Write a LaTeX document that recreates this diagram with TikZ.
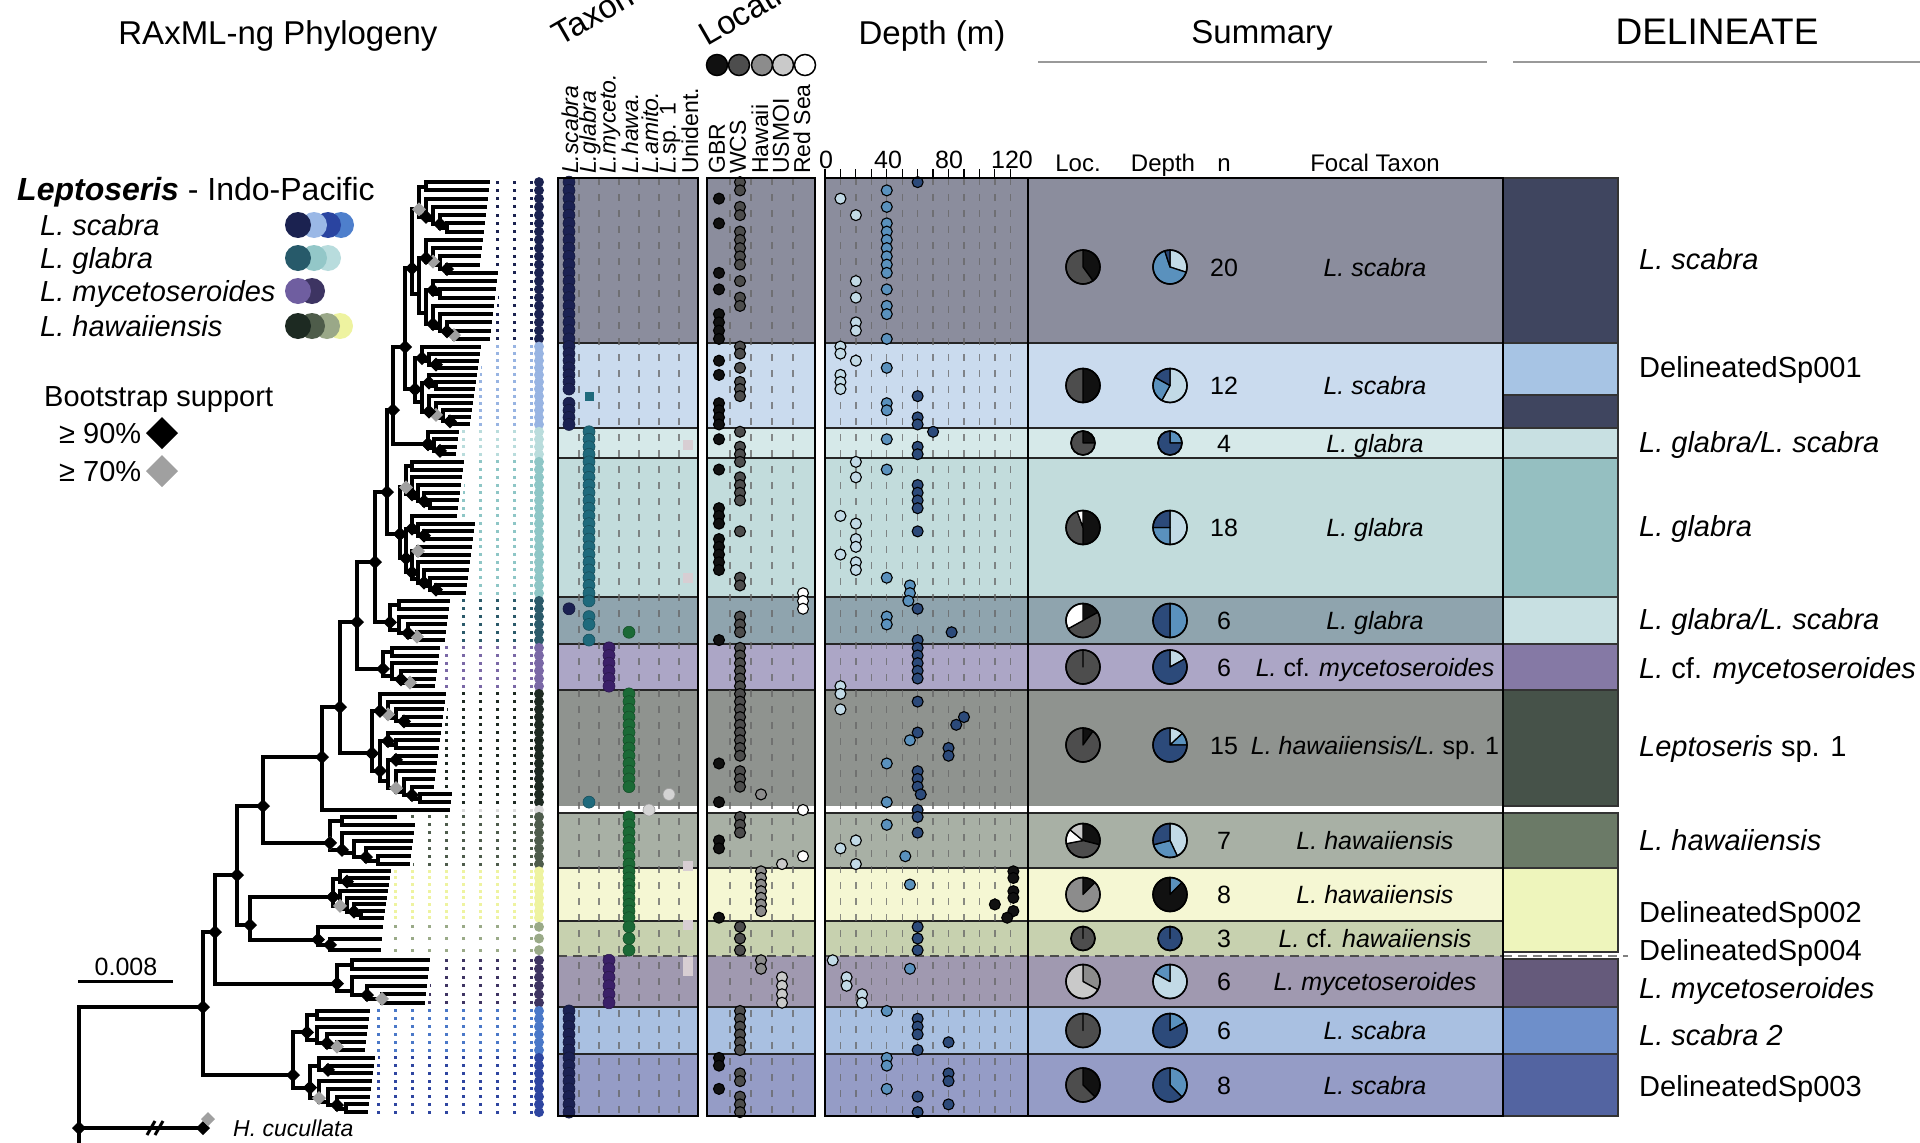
\documentclass[tikz,border=0pt]{standalone}
\usepackage{fontspec}
\setmainfont{Liberation Sans}
\usetikzlibrary{positioning}

\newcommand\fs[1]{\fontsize{#1}{#1}\selectfont}

% row backgrounds
\definecolor{rowA}{HTML}{8B8D9D}
\definecolor{rowB}{HTML}{CADBEE}
\definecolor{rowC}{HTML}{D6E9E9}
\definecolor{rowD}{HTML}{C2DCDC}
\definecolor{rowE}{HTML}{8FA4AE}
\definecolor{rowF}{HTML}{ACA6C6}
\definecolor{rowG}{HTML}{8F938F}
\definecolor{rowH}{HTML}{A8B0A5}
\definecolor{rowI}{HTML}{F5F7D3}
\definecolor{rowJ}{HTML}{C7D1AF}
\definecolor{rowK}{HTML}{A099B0}
\definecolor{rowL}{HTML}{A9C0E1}
\definecolor{rowM}{HTML}{959CC6}
% tip strip
\definecolor{spA}{HTML}{1B2250}
\definecolor{spB}{HTML}{98B4E2}
\definecolor{spC}{HTML}{B9DCDC}
\definecolor{spD}{HTML}{8EC6C6}
\definecolor{spE}{HTML}{2B5A6A}
\definecolor{spF}{HTML}{7A68A6}
\definecolor{spG}{HTML}{1E2A22}
\definecolor{spX}{HTML}{D9D9D9}
\definecolor{spH}{HTML}{4E5C4C}
\definecolor{spI}{HTML}{EEF3A0}
\definecolor{spJ}{HTML}{9AAA88}
\definecolor{spK}{HTML}{3E3462}
\definecolor{spL}{HTML}{4A78C8}
\definecolor{spM}{HTML}{2E45A0}
% delineate
\definecolor{dlA}{HTML}{3F455F}
\definecolor{dlB}{HTML}{A7C4E4}
\definecolor{dlC}{HTML}{C8E0E2}
\definecolor{dlD}{HTML}{95BFC1}
\definecolor{dlF}{HTML}{8579A5}
\definecolor{dlG}{HTML}{465249}
\definecolor{dlH}{HTML}{6B7A67}
\definecolor{dlI}{HTML}{EEF5BC}
\definecolor{dlK}{HTML}{655A7B}
\definecolor{dlL}{HTML}{6E8FCA}
\definecolor{dlM}{HTML}{5364A1}
% taxonomy, location, depth
\definecolor{tax1}{HTML}{1B2152}
\definecolor{tax2}{HTML}{1F6A7C}
\definecolor{tax3}{HTML}{3B2068}
\definecolor{tax4}{HTML}{1B6A36}
\definecolor{tax5}{HTML}{D4D4D4}
\definecolor{tax6}{HTML}{D4D4D4}
\definecolor{tax7}{HTML}{E0D6DA}
\definecolor{unid}{HTML}{D8CED3}
\definecolor{loc1}{HTML}{111111}
\definecolor{loc2}{HTML}{4D4D4D}
\definecolor{loc3}{HTML}{8C8C8C}
\definecolor{loc4}{HTML}{C9C9C9}
\definecolor{loc5}{HTML}{FFFFFF}
\definecolor{dep0}{HTML}{C2DAE6}
\definecolor{dep1}{HTML}{5A91BD}
\definecolor{dep2}{HTML}{2C4A7A}
\definecolor{dep3}{HTML}{111111}
\definecolor{bsgray}{HTML}{A0A0A0}
% legend
\definecolor{lgA1}{HTML}{1B2250}
\definecolor{lgA2}{HTML}{9AB8E6}
\definecolor{lgA3}{HTML}{2A44A0}
\definecolor{lgA4}{HTML}{4E7FCC}
\definecolor{lgB1}{HTML}{275A6A}
\definecolor{lgB2}{HTML}{93C7C8}
\definecolor{lgB3}{HTML}{B8DCDD}
\definecolor{lgC1}{HTML}{6F5EA0}
\definecolor{lgC2}{HTML}{3D3462}
\definecolor{lgD1}{HTML}{1D2A22}
\definecolor{lgD2}{HTML}{4E5C4A}
\definecolor{lgD3}{HTML}{9AA888}
\definecolor{lgD4}{HTML}{EEF3A0}

\tikzset{
  branch/.style={line width=4pt, line cap=rect, line join=miter},
  leader/.style={line width=3pt, dash pattern=on 3pt off 14pt},
  gridline/.style={black!60, line width=1.3pt, dash pattern=on 7pt off 9pt, opacity=0.75},
  rowline/.style={black!85, line width=1.5pt},
  frame/.style={draw=black, line width=2pt},
  dot/.style={draw=black, line width=1.1pt},
  txt/.style={inner sep=0pt, text=black},
  head/.style={txt, font=\fs{33}, anchor=base},
  leg/.style={txt, font=\fs{29}, anchor=base west},
  collab/.style={txt, font=\fs{23}},
  axlab/.style={txt, font=\fs{25}, anchor=base},
  colhead/.style={txt, font=\fs{24}, anchor=base},
  sumtxt/.style={txt, font=\fs{25}, anchor=base},
  dltxt/.style={txt, font=\fs{29}, anchor=base west},
}

% current tip group for the tree
\newcommand\gtop{0}
\newcommand\gh{1}
\newcommand\gn{1}
\newcommand\gtip{0}
\newcommand\gdx{5}
\newcommand\setgroup[5]{\def\gtop{#1}\def\gh{#2}\def\gn{#3}\def\gtip{#4}\def\gdx{#5}}
\newcommand\cladey[2]{\pgfmathsetmacro\cy{\gtop+((0.45*(#1)+0.55*(#2))-0.5)*\gh/\gn}}

% bootstrap diamond
\newcommand\bsmark[2]{\fill[#2] (#1) ++(-7pt,0pt) -- ++(7pt,7pt) -- ++(7pt,-7pt) -- ++(-7pt,-7pt) -- cycle;}
\newcommand\cladediam[2]{\ifnum#2<3 \bsmark{#1}{black}\else\ifnum#2=3 \bsmark{#1}{bsgray}\fi\fi}

% clade of tips #1..#2, parent x #3, own x #4
\newcommand\clade[4]{%
  \cladey{#1}{#2}\let\cyown\cy
  \ifnum#1=#2\relax
    \pgfmathsetmacro\ctx{\gtip+mod(#1*37+\gn*11,19)}%
    \draw[branch] (#3,\cyown) -- (\ctx,\cyown);%
  \else
    \draw[branch] (#3,\cyown) -- (#4,\cyown);%
    \pgfmathtruncatemacro\csp{#1+max(1,int((#2-#1+1)*0.4))-1}%
    \pgfmathtruncatemacro\cnx{\csp+1}%
    \cladey{#1}{\csp}\let\cya\cy
    \cladey{\cnx}{#2}\let\cyb\cy
    \draw[branch] (#4,\cya) -- (#4,\cyb);%
    \pgfmathsetmacro\cxa{#4+\gdx}%
    \pgfmathtruncatemacro\cmk{mod(#1*3+#2*5,7)}%
    \edef\cdo{\noexpand\clade{#1}{\csp}{#4}{\cxa}\noexpand\clade{\cnx}{#2}{#4}{\cxa}\noexpand\cladediam{#4,\cyown}{\cmk}}%
    \cdo
  \fi}

% one row group: top, height, n, root x, tip base, step, strip colour, tax/loc/depth list, root name
\newcommand\drawgroup[9]{%
  \setgroup{#1}{#2}{#3}{#5}{#6}%
  \foreach \tcol/\lcol/\dval [count=\k] in {#8}{%
    \pgfmathsetmacro\ty{#1+(\k-0.5)*#2/#3}%
    \pgfmathsetmacro\tipx{#5+mod(\k*37+#3*11,19)}%
    \pgfmathtruncatemacro\dcl{(\dval>=30)+(\dval>=56)+(\dval>=100)}%
    \draw[leader, #7] (533,\ty) -- (\tipx+5,\ty);
    \fill[#7] (539,\ty) circle[radius=5pt];
    \ifnum\tcol=8
      \fill[tax2] (584.5,\ty-4.5) rectangle (593.5,\ty+4.5);
    \else
      \filldraw[fill=tax\tcol, draw=tax\tcol!75!black, line width=0.6pt] (549+20*\tcol,\ty) circle[radius=6pt];
    \fi
    \filldraw[dot, fill=loc\lcol] (698+21*\lcol,\ty) circle[radius=5.5pt];
    \filldraw[dot, fill=dep\dcl] (825+1.544*\dval,\ty) circle[radius=5.5pt];
  }%
  \clade{1}{#3}{#4}{#4}%
  \pgfmathsetmacro\gry{#1+(0.55*#3-0.05)*#2/#3}%
  \coordinate (#9) at (#4,\gry);
}

% pie from 12 o'clock, clockwise
\newcommand\piechart[4]{%
  \gdef\pcur{90}%
  \foreach \pf/\pc in {#4}{%
    \pgfmathsetmacro\pnext{\pcur-360*\pf}%
    \filldraw[fill=\pc, draw=black, line width=1.3pt, line join=round] (#1,#2) -- ++(\pcur:#3pt) arc[start angle=\pcur, end angle=\pnext, radius=#3pt] -- cycle;
    \xdef\pcur{\pnext}}%
  \draw[black, line width=1.6pt] (#1,#2) circle[radius=#3pt];}

\newcommand\sumrow[7]{%
  \piechart{1083}{#1}{#2}{#3}%
  \piechart{1170}{#1}{#2}{#4}%
  \node[sumtxt] (#7n) at (1224,#1+9) {#5};%
  \node[sumtxt] (#7t) at (1375,#1+9) {#6};}

\def\rowlist{178/343/rowA,343/428/rowB,428/458/rowC,458/597/rowD,597/644/rowE,644/690/rowF,690/806/rowG,806/813/white,813/868/rowH,868/921/rowI,921/956/rowJ,956/1007/rowK,1007/1054/rowL,1054/1116/rowM}
\newcommand\panel[2]{%
  \foreach \rt/\rb/\rc in \rowlist {\fill[\rc] (#1,\rt) rectangle (#2,\rb);}%
  \foreach \yy in {343,428,458,597,644,690,813,868,921,1007,1054} {\draw[rowline] (#1,\yy) -- (#2,\yy);}%
  \draw[rowline, black!70, dash pattern=on 9pt off 6pt] (#1,956) -- (#2,956);}

\begin{document}
\begin{tikzpicture}[x=1pt, y=-1pt]
\useasboundingbox (0,0) rectangle (1920,1143);

% panels
\panel{558}{698}
\panel{707}{815}
\panel{825}{1503}
\foreach \gx in {579,599,619,639,659,679,730,751,772,793}
  \draw[gridline] (\gx,178) -- (\gx,1116);
\foreach \i in {1,...,12}
  \draw[gridline] (825+15.44*\i,178) -- (825+15.44*\i,1116);
\foreach \uy in {445,578,866,925,962,971}
  \fill[unid] (683,\uy-5) rectangle (693,\uy+5);

% DELINEATE column
\foreach \rt/\rb/\rc in {178/343/dlA,343/395/dlB,395/428/dlA,428/458/dlC,458/597/dlD,597/644/dlC,644/690/dlF,690/806/dlG,813/868/dlH,868/952/dlI,959/1007/dlK,1007/1054/dlL,1054/1116/dlM}
  \filldraw[fill=\rc, draw=black!80, line width=1.2pt] (1503,\rt) rectangle (1618,\rb);
\draw[gray, line width=1.5pt, dash pattern=on 9pt off 6pt] (1503,956) -- (1628,956);

% tips, panel dots and tree per row group
\drawgroup{178}{165}{20}{412}{478}{7}{spA}{1/2/60,1/2/40,1/1/10,1/2/40,1/2/20,1/1/40,1/2/40,1/2/40,1/2/40,1/2/40,1/2/40,1/1/40,1/2/20,1/1/40,1/2/20,1/2/40,1/1/40,1/1/20,1/1/20,1/1/40}{rA}
\drawgroup{343}{85}{12}{415}{462}{7}{spB}{1/2/10,1/2/10,1/1/20,1/2/40,1/1/10,1/2/10,1/2/10,8/2/60,1/1/40,1/1/40,1/1/60,1/1/60}{rB}
\drawgroup{428}{30}{4}{428}{452}{6}{spC}{2/2/70,2/1/40,2/2/60,2/2/60}{rC}
\drawgroup{458}{139}{18}{400}{455}{6}{spD}{2/2/20,2/1/40,2/2/20,2/2/60,2/2/60,2/2/60,2/1/60,2/1/10,2/1/20,2/2/60,2/1/20,2/1/20,2/1/10,2/1/20,2/1/20,2/2/40,2/2/55,2/5/55}{rD}
\drawgroup{597}{47}{6}{390}{440}{9}{spE}{2/5/54,1/5/60,2/2/40,2/2/40,4/2/82,2/1/60}{rE}
\drawgroup{644}{46}{6}{383}{430}{9}{spF}{3/2/60,3/2/60,3/2/60,3/2/60,3/2/60,3/2/10}{rF}
\drawgroup{690}{116}{15}{372}{432}{8}{spG}{4/2/10,4/2/60,4/2/10,4/2/90,4/2/85,4/2/60,4/2/55,4/2/80,4/2/80,4/1/40,4/2/60,4/2/60,4/2/60,6/3/62,2/1/40}{rG}
\drawgroup{806}{8}{1}{322}{438}{5}{spX}{5/5/60}{rX}
\drawgroup{813}{55}{7}{330}{395}{12}{spH}{4/2/60,4/2/40,4/2/60,4/1/20,4/1/10,4/5/52,4/4/20}{rH}
\drawgroup{868}{53}{8}{333}{378}{7}{spI}{4/3/122,4/3/122,4/3/55,4/3/122,4/3/122,4/3/110,4/3/122,4/1/118}{rI}
\drawgroup{921}{35}{3}{318}{368}{12}{spJ}{4/2/60,4/2/60,4/2/60}{rJ}
\drawgroup{956}{51}{6}{337}{420}{15}{spK}{3/3/5,3/3/55,3/4/14,3/4/14,3/4/24,3/4/24}{rK}
\drawgroup{1007}{47}{6}{307}{360}{10}{spL}{1/2/40,1/2/60,1/2/60,1/2/60,1/2/80,1/2/60}{rL}
\drawgroup{1054}{62}{8}{310}{362}{9}{spM}{1/1/40,1/1/40,1/2/80,1/2/80,1/1/40,1/2/60,1/2/80,1/2/60}{rM}

% backbone of the tree
\coordinate (nKa) at (405,347);
\coordinate (nK) at (393,410);
\coordinate (nJ) at (387,492);
\coordinate (nI) at (375,562);
\coordinate (nH) at (357,622);
\coordinate (nG) at (340,707);
\coordinate (nF) at (322,757);
\coordinate (nE) at (263,806);
\coordinate (nHW) at (250,925);
\coordinate (nD) at (237,875);
\coordinate (nC) at (215,932);
\coordinate (nSC) at (293,1075);
\coordinate (nB) at (203,1007);
\coordinate (nR) at (79,1128);
\coordinate (nOut) at (203,1128);
\coordinate (nOut2) at (280,1150);
\draw[branch] (rA) -| (nKa) |- (rB);
\draw[branch] (nKa) -| (nK) |- (rC);
\draw[branch] (nK) -| (nJ) |- (rD);
\draw[branch] (nJ) -| (nI) |- (rE);
\draw[branch] (nI) -| (nH) |- (rF);
\draw[branch] (nH) -| (nG) |- (rG);
\draw[branch] (nG) -| (nF) |- (rX);
\draw[branch] (nF) -| (nE) |- (rH);
\draw[branch] (rI) -| (nHW) |- (rJ);
\draw[branch] (nE) -| (nD) |- (nHW);
\draw[branch] (nD) -| (nC) |- (rK);
\draw[branch] (rL) -| (nSC) |- (rM);
\draw[branch] (nC) -| (nB) |- (nSC);
\draw[branch] (nB) -| (nR) -- ++(0,30);
\draw[branch] (nR) -- (nOut);
\draw[line width=3pt] (147,1135) -- (155,1121) (155,1135) -- (163,1121);
\foreach \n in {nKa,nK,nJ,nI,nH,nG,nF,nE,nHW,nD,nC,nSC,nB,nR,nOut,rA,rB,rC,rD,rE,rF,rG,rH,rI,rJ,rK,rL,rM}
  {\bsmark{\n}{black}}
\bsmark{208,1119}{bsgray}
\bsmark{nOut2}{bsgray}

% panel frames
\draw[frame] (558,178) rectangle (698,1116);
\draw[frame] (707,178) rectangle (815,1116);
\draw[frame] (825,178) rectangle (1503,1116);
\draw[rowline, black] (1028,178) -- (1028,1116);

% summary
\sumrow{267}{17}{0.4/loc1,0.6/loc2}{0.3/dep0,0.65/dep1,0.05/dep2}{20}{\textit{L. scabra}}{sA}
\sumrow{385.5}{17}{0.5/loc1,0.5/loc2}{0.58/dep0,0.25/dep1,0.17/dep2}{12}{\textit{L. scabra}}{sB}
\sumrow{443}{12}{0.25/loc1,0.75/loc2}{0.25/dep1,0.75/dep2}{4}{\textit{L. glabra}}{sC}
\sumrow{527.5}{17}{0.5/loc1,0.444/loc2,0.056/loc5}{0.5/dep0,0.25/dep1,0.25/dep2}{18}{\textit{L. glabra}}{sD}
\sumrow{620.5}{17}{0.17/loc1,0.5/loc2,0.33/loc5}{0.5/dep1,0.5/dep2}{6}{\textit{L. glabra}}{sE}
\sumrow{667}{17}{1/loc2}{0.17/dep0,0.83/dep2}{6}{\textit{L.} cf. \textit{mycetoseroides}}{sF}
\sumrow{745}{17}{0.1/loc1,0.9/loc2}{0.13/dep0,0.12/dep1,0.75/dep2}{15}{\textit{L. hawaiiensis/L.} sp. 1}{sG}
\sumrow{840.5}{17}{0.29/loc1,0.43/loc2,0.14/loc5,0.14/loc4}{0.43/dep0,0.28/dep1,0.29/dep2}{7}{\textit{L. hawaiiensis}}{sH}
\sumrow{894.5}{17}{0.125/loc1,0.875/loc3}{0.125/dep1,0.875/dep3}{8}{\textit{L. hawaiiensis}}{sI}
\sumrow{938.5}{12}{1/loc2}{1/dep2}{3}{\textit{L.} cf. \textit{hawaiiensis}}{sJ}
\sumrow{981.5}{17}{0.33/loc3,0.67/loc4}{0.83/dep0,0.17/dep1}{6}{\textit{L. mycetoseroides}}{sK}
\sumrow{1030.5}{17}{1/loc2}{0.17/dep1,0.83/dep2}{6}{\textit{L. scabra}}{sL}
\sumrow{1085}{17}{0.375/loc1,0.625/loc2}{0.375/dep1,0.625/dep2}{8}{\textit{L. scabra}}{sM}

% DELINEATE labels
\node[dltxt] (dA) at (1639,269) {\textit{L. scabra}};
\node[dltxt] (dB) at (1639,377) {DelineatedSp001};
\node[dltxt] (dC) at (1639,452) {\textit{L. glabra/L. scabra}};
\node[dltxt] (dD) at (1639,536) {\textit{L. glabra}};
\node[dltxt] (dE) at (1639,629) {\textit{L. glabra/L. scabra}};
\node[dltxt] (dF) at (1639,678) {\textit{L.} cf. \textit{mycetoseroides}};
\node[dltxt] (dG) at (1639,756) {\textit{Leptoseris} sp. 1};
\node[dltxt] (dH) at (1639,850) {\textit{L. hawaiiensis}};
\node[dltxt] (dI) at (1639,922) {DelineatedSp002};
\node[dltxt] (dJ) at (1639,960) {DelineatedSp004};
\node[dltxt] (dK) at (1639,998) {\textit{L. mycetoseroides}};
\node[dltxt] (dL) at (1639,1045) {\textit{L. scabra 2}};
\node[dltxt] (dM) at (1639,1096) {DelineatedSp003};

% headers
\node[head] (tPhy) at (278,44) {RAxML-ng Phylogeny};
\node[head, rotate=30, anchor=base west] (tTax) at (560,47) {Taxonomy};
\node[head, rotate=30, anchor=base west] (tLoc) at (707,47) {Location};
\node[head] (tDep) at (932,44) {Depth (m)};
\node[head] (tSum) at (1262,43) {Summary};
\node[head, font=\fs{37}] (tDel) at (1717,44) {DELINEATE};
\draw[gray!80, line width=1.8pt] (1038,62) -- (1487,62);
\draw[gray!80, line width=1.8pt] (1513,62) -- (1920,62);

\foreach \cx/\cl [count=\i] in {570/{\textit{L.scabra}},590/{\textit{L.glabra}},610/{\textit{L.myceto.}},630/{\textit{L.hawa.}},650/{\textit{L.amito.}},670/{\textit{L.}sp. 1},690/{Unident.}}
  \node[collab, rotate=90, anchor=west] (cl\i) at (\cx,174) {\cl};
\foreach \cx/\cl [count=\i] in {717/GBR,738/WCS,760/Hawaii,781/USMOI,802/Red Sea}
  \node[collab, rotate=90, anchor=west] (ll\i) at (\cx,174) {\cl};
\foreach \cx/\cc in {717/loc1,739/loc2,762/loc3,783/loc4,805/loc5}
  \filldraw[dot, line width=1.5pt, fill=\cc] (\cx,65) circle[radius=10.5pt];

\foreach \i in {0,...,12}
  \draw[black, line width=1.2pt] (825+15.44*\i,169) -- (825+15.44*\i,178);
\foreach \dv/\dl [count=\i] in {826/0,888/40,949/80,1012/120}
  \node[axlab] (ax\i) at (\dv,168) {\dl};
\node[colhead] (hLoc) at (1078,171) {Loc.};
\node[colhead] (hDep) at (1163,171) {Depth};
\node[colhead] (hN) at (1224,171) {n};
\node[colhead] (hFoc) at (1375,171) {Focal Taxon};

% legend
\node[leg, font=\fs{32}] (lgLep) at (17,200) {\textbf{\textit{Leptoseris}} - Indo-Pacific};
\node[leg] (lgSc) at (40,235) {\textit{L. scabra}};
\node[leg] (lgGl) at (40,268) {\textit{L. glabra}};
\node[leg] (lgMy) at (40,301) {\textit{L. mycetoseroides}};
\node[leg] (lgHa) at (40,336) {\textit{L. hawaiiensis}};
\foreach \cx/\cc in {341/lgA4,328/lgA3,314/lgA2,298/lgA1}
  \fill[\cc] (\cx,225) circle[radius=13pt];
\foreach \cx/\cc in {328/lgB3,314/lgB2,298/lgB1}
  \fill[\cc] (\cx,258) circle[radius=13pt];
\foreach \cx/\cc in {312/lgC2,298/lgC1}
  \fill[\cc] (\cx,291) circle[radius=13pt];
\foreach \cx/\cc in {340/lgD4,327/lgD3,312/lgD2,298/lgD1}
  \fill[\cc] (\cx,326) circle[radius=13pt];
\node[leg] (lgBs) at (44,406) {Bootstrap support};
\node[leg] (lg90) at (59,443) {≥ 90\%};
\node[leg] (lg70) at (59,481) {≥ 70\%};
\fill[black] (162,433) ++(-16pt,0pt) -- ++(16pt,16pt) -- ++(16pt,-16pt) -- ++(-16pt,-16pt) -- cycle;
\fill[bsgray] (162,471) ++(-16pt,0pt) -- ++(16pt,16pt) -- ++(16pt,-16pt) -- ++(-16pt,-16pt) -- cycle;

% scale bar and outgroup
\draw[line width=3pt] (78,981) -- (173,981);
\node[axlab] (sbar) at (126,975) {0.008};
\node[txt, font=\fs{23}, anchor=base west] (hcuc) at (233,1136) {\textit{H. cucullata}};
\end{tikzpicture}
\end{document}
